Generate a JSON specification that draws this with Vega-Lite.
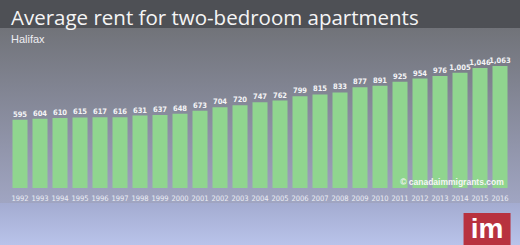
{
  "$schema": "https://vega.github.io/schema/vega-lite/v6.json",
  "width": 520,
  "height": 217,
  "autosize": {"type": "none"},
  "padding": {"top": 28, "left": 0, "right": 0, "bottom": 0},
  "background": "#4e5055",
  "title": {
    "text": "Average rent for two-bedroom apartments",
    "anchor": "start",
    "frame": "group",
    "dx": 11,
    "offset": -17,
    "fontSize": 20.5,
    "font": "Open Sans",
    "fontWeight": "normal",
    "color": "#f5f5f5",
    "baseline": "alphabetic"
  },
  "config": {"view": {"stroke": null}},
  "data": {
    "values": [
      {"year": "1992", "rent": 595},
      {"year": "1993", "rent": 604},
      {"year": "1994", "rent": 610},
      {"year": "1995", "rent": 615},
      {"year": "1996", "rent": 617},
      {"year": "1997", "rent": 616},
      {"year": "1998", "rent": 631},
      {"year": "1999", "rent": 637},
      {"year": "2000", "rent": 648},
      {"year": "2001", "rent": 673},
      {"year": "2002", "rent": 704},
      {"year": "2003", "rent": 720},
      {"year": "2004", "rent": 747},
      {"year": "2005", "rent": 762},
      {"year": "2006", "rent": 799},
      {"year": "2007", "rent": 815},
      {"year": "2008", "rent": 833},
      {"year": "2009", "rent": 877},
      {"year": "2010", "rent": 891},
      {"year": "2011", "rent": 925},
      {"year": "2012", "rent": 954},
      {"year": "2013", "rent": 976},
      {"year": "2014", "rent": 1005},
      {"year": "2015", "rent": 1046},
      {"year": "2016", "rent": 1063}
    ]
  },
  "layer": [
    {
      "data": {"values": [{}]},
      "mark": {
        "type": "rect",
        "fill": {
          "gradient": "linear", "x1": 0, "y1": 0, "x2": 0, "y2": 1,
          "stops": [
            {"offset": 0, "color": "#5f6167"},
            {"offset": 0.4, "color": "#7a7d88"},
            {"offset": 0.8, "color": "#a3abd0"},
            {"offset": 1, "color": "#b9c3ea"}
          ]
        }
      },
      "encoding": {}
    },
    {
      "data": {"values": [{}]},
      "mark": {
        "type": "rect",
        "fill": {
          "gradient": "linear", "x1": 0, "y1": 0, "x2": 0, "y2": 1,
          "stops": [
            {"offset": 0, "color": "#717379"},
            {"offset": 1, "color": "#a0a5c2"}
          ]
        }
      },
      "encoding": {
        "y": {"datum": 1394.1, "type": "quantitative", "scale": {"domain": [-496.6, 1394.1], "nice": false, "zero": false}, "axis": null},
        "y2": {"datum": -130.7}
      }
    },
    {
      "mark": {"type": "bar", "color": "#90d58f"},
      "encoding": {
        "x": {
          "field": "year", "type": "ordinal",
          "scale": {"paddingInner": 0.25, "paddingOuter": 0.625},
          "axis": null
        },
        "y": {"field": "rent", "type": "quantitative", "scale": {"domain": [-496.6, 1394.1], "nice": false, "zero": false}, "axis": null},
        "y2": {"datum": 0}
      }
    },
    {
      "mark": {"type": "text", "baseline": "alphabetic", "dy": -3, "font": "DejaVu Sans Condensed, Roboto, sans-serif", "fontWeight": "bold", "fontSize": 7.5, "color": "#f4f4f6"},
      "encoding": {
        "x": {"field": "year", "type": "ordinal", "axis": null},
        "y": {"field": "rent", "type": "quantitative", "scale": {"domain": [-496.6, 1394.1], "nice": false, "zero": false}, "axis": null},
        "text": {"field": "rent", "type": "quantitative", "format": ","}
      }
    },
    {
      "mark": {"type": "text", "baseline": "middle", "font": "DejaVu Sans Condensed, Roboto, sans-serif", "fontSize": 7.5, "color": "#eceef5"},
      "encoding": {
        "x": {"field": "year", "type": "ordinal", "axis": null},
        "y": {"datum": -92, "type": "quantitative", "scale": {"domain": [-496.6, 1394.1], "nice": false, "zero": false}, "axis": null},
        "text": {"field": "year", "type": "nominal"}
      }
    },
    {
      "data": {"values": [{}]},
      "mark": {"type": "text", "text": "Halifax", "align": "left", "baseline": "middle", "font": "Liberation Sans", "fontSize": 11, "color": "#eeeef2"},
      "encoding": {
        "x": {"datum": "1992", "type": "ordinal", "bandPosition": -0.1, "axis": null},
        "y": {"datum": 1289.5, "type": "quantitative", "scale": {"domain": [-496.6, 1394.1], "nice": false, "zero": false}, "axis": null}
      }
    },
    {
      "data": {"values": [{}]},
      "mark": {"type": "text", "text": "© canadaimmigrants.com", "align": "right", "baseline": "middle", "font": "Liberation Sans", "fontWeight": "bold", "fontSize": 8.5, "color": "#f6f6f6"},
      "encoding": {
        "x": {"datum": "2016", "type": "ordinal", "bandPosition": 0.75, "axis": null},
        "y": {"datum": 52, "type": "quantitative", "scale": {"domain": [-496.6, 1394.1], "nice": false, "zero": false}, "axis": null}
      }
    },
    {
      "data": {"values": [{}]},
      "mark": {"type": "point", "shape": "square", "filled": true, "size": 2209, "color": "#b8323f", "opacity": 1},
      "encoding": {
        "x": {"datum": "2015", "type": "ordinal", "bandPosition": 0.97, "axis": null},
        "y": {"datum": -422.6, "type": "quantitative", "scale": {"domain": [-496.6, 1394.1], "nice": false, "zero": false}, "axis": null}
      }
    },
    {
      "data": {"values": [{}]},
      "mark": {"type": "text", "text": "im", "align": "center", "baseline": "alphabetic", "font": "Liberation Sans", "fontWeight": "bold", "fontSize": 28, "color": "#ffffff"},
      "encoding": {
        "x": {"datum": "2015", "type": "ordinal", "bandPosition": 0.97, "axis": null},
        "y": {"datum": -435.7, "type": "quantitative", "scale": {"domain": [-496.6, 1394.1], "nice": false, "zero": false}, "axis": null}
      }
    }
  ]
}
